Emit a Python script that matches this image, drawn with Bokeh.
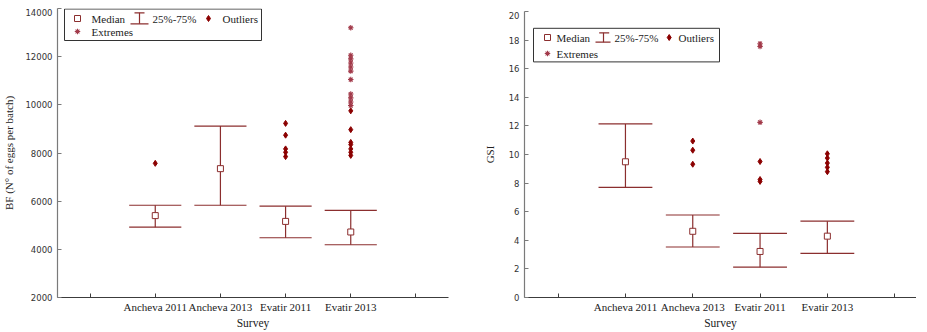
from bokeh.plotting import figure
from bokeh.layouts import row, column
from bokeh.models import Range1d, FixedTicker, SingleIntervalTicker, Spacer
from bokeh.embed import file_html
from bokeh.resources import INLINE
from bokeh.core.properties import value

# ---------------- data ----------------
slot_pos = [1, 2, 3, 4, 5, 6]
slot_labels = ["", "Ancheva 2011", "Ancheva 2013", "Evatir 2011", "Evatir 2013", ""]
surveys = ["Ancheva 2011", "Ancheva 2013", "Evatir 2011", "Evatir 2013"]

# BF (N° of eggs per batch)
bf_median = [5400, 7350, 5160, 4720]
bf_q1 = [4920, 5830, 4480, 4190]
bf_q3 = [5830, 9120, 5790, 5620]
bf_outlier_survey = ["Ancheva 2011",
                     "Evatir 2011", "Evatir 2011", "Evatir 2011", "Evatir 2011", "Evatir 2011",
                     "Evatir 2013", "Evatir 2013", "Evatir 2013", "Evatir 2013", "Evatir 2013",
                     "Evatir 2013", "Evatir 2013"]
bf_outlier_value = [7570,
                    9230, 8740, 8170, 8030, 7850,
                    9750, 8970, 8440, 8350, 8170, 8030, 7900]
bf_extreme_survey = ["Evatir 2013"] * 11
bf_extreme_value = [13200, 12060, 11910, 11740, 11570, 11400, 11050, 10450, 10290, 10120, 9970]

# GSI
gsi_median = [9.49, 4.63, 3.22, 4.29]
gsi_q1 = [7.70, 3.53, 2.12, 3.08]
gsi_q3 = [12.14, 5.77, 4.48, 5.34]
gsi_outlier_survey = ["Ancheva 2013", "Ancheva 2013", "Ancheva 2013",
                      "Evatir 2011", "Evatir 2011", "Evatir 2011",
                      "Evatir 2013", "Evatir 2013", "Evatir 2013", "Evatir 2013", "Evatir 2013"]
gsi_outlier_value = [10.94, 10.30, 9.32,
                     9.51, 8.25, 8.12,
                     10.05, 9.75, 9.40, 9.10, 8.80]
gsi_extreme_survey = ["Evatir 2011", "Evatir 2011", "Evatir 2011"]
gsi_extreme_value = [17.75, 17.55, 12.25]

legend_labels = ["Median", "25%-75%", "Outliers", "Extremes"]

# ---------------- style ----------------
DARK = "#8b0000"
WHISK = "#8b2e2e"
EXT = "#a23a4a"
SERIF = "Liberation Serif"
SANS = "DejaVu Sans"
CAP_HALF = 0.4


def pos_of(names):
    return [slot_pos[slot_labels.index(n)] for n in names]


def make_chart(ylabel, y0, y1, ystep, x_end, fw, fh, bl, br, bb,
               med, q1, q3, o_s, o_v, e_s, e_v, leg):
    p = figure(frame_width=fw, frame_height=fh, min_border_left=bl, min_border_top=0,
               min_border_right=br, min_border_bottom=bb,
               x_range=Range1d(0.5, x_end), y_range=Range1d(y0, y1),
               output_backend="svg", toolbar_location=None, tools="")
    p.extra_x_ranges = {"px": Range1d(0, fw)}
    p.extra_y_ranges = {"py": Range1d(fh, 0)}
    p.background_fill_color = "white"
    p.border_fill_color = "white"
    p.outline_line_color = None
    p.xgrid.visible = False
    p.ygrid.visible = False

    xs = pos_of(surveys)
    p.segment(x0=xs, y0=q1, x1=xs, y1=q3, line_color=WHISK, line_width=1.2)
    p.segment(x0=[x - CAP_HALF for x in xs], y0=q3, x1=[x + CAP_HALF for x in xs], y1=q3,
              line_color=WHISK, line_width=1.2)
    p.segment(x0=[x - CAP_HALF for x in xs], y0=q1, x1=[x + CAP_HALF for x in xs], y1=q1,
              line_color=WHISK, line_width=1.2)
    p.scatter(x=xs, y=med, marker="square", size=6, fill_color="white",
              line_color=WHISK, line_width=1)
    p.scatter(x=pos_of(o_s), y=o_v, marker="diamond", size=6, fill_color=DARK,
              line_color=DARK)
    p.scatter(x=pos_of(e_s), y=e_v, marker="asterisk", size=5.5, line_color=EXT,
              line_width=1.1)

    xa = p.xaxis[0]
    xa.ticker = FixedTicker(ticks=slot_pos)
    xa.major_label_overrides = {k: v for k, v in zip(slot_pos, slot_labels)}
    xa.axis_label = "Survey"
    xa.axis_line_color = "#3c3c3c"
    xa.axis_line_width = 1.2
    xa.major_tick_line_color = "#3c3c3c"
    xa.major_tick_in = 4
    xa.major_tick_out = 0
    xa.minor_tick_line_color = None
    xa.major_label_text_font = SERIF
    xa.major_label_text_font_size = "11px"
    xa.major_label_text_color = "#222222"
    xa.major_label_standoff = 3
    xa.axis_label_text_font = SERIF
    xa.axis_label_text_font_size = "11.5px"
    xa.axis_label_text_font_style = "normal"
    xa.axis_label_text_color = "#222222"
    xa.axis_label_standoff = 1

    ya = p.yaxis[0]
    ya.ticker = SingleIntervalTicker(interval=ystep, num_minor_ticks=0)
    ya.axis_label = ylabel
    ya.axis_line_color = "#7a7a7a"
    ya.axis_line_width = 1.2
    ya.major_tick_line_color = "#7a7a7a"
    ya.major_tick_in = 4
    ya.major_tick_out = 0
    ya.minor_tick_line_color = None
    ya.major_label_text_font = SANS
    ya.major_label_text_font_size = "8.5px"
    ya.major_label_text_color = "#333333"
    ya.major_label_standoff = 5
    ya.axis_label_text_font = SERIF
    ya.axis_label_text_font_size = "11px"
    ya.axis_label_text_font_style = "normal"
    ya.axis_label_text_color = "#222222"
    ya.axis_label_standoff = leg["ylab_standoff"]

    kw = dict(x_range_name="px", y_range_name="py")
    bx0, bx1, by0, by1 = leg["box"]
    p.quad(left=[bx0], right=[bx1], top=[by0], bottom=[by1], fill_color="white",
           line_color="#333333", line_width=1, **kw)
    r1, r2 = leg["rows"]
    mx, mt, bxs, btop, bbot, dx, dt = leg["cols"]
    p.scatter(x=[mx], y=[r1], marker="square", size=6, fill_color="white",
              line_color=WHISK, line_width=1, **kw)
    p.segment(x0=[bxs[1]], y0=[btop[0]], x1=[bxs[1]], y1=[bbot[0]], line_color=WHISK,
              line_width=1.2, **kw)
    p.segment(x0=[btop[1]], y0=[btop[0]], x1=[btop[2]], y1=[btop[0]], line_color=WHISK,
              line_width=1.2, **kw)
    p.segment(x0=[bbot[1]], y0=[bbot[0]], x1=[bbot[2]], y1=[bbot[0]], line_color=WHISK,
              line_width=1.2, **kw)
    p.scatter(x=[dx], y=[r1], marker="diamond", size=6, fill_color=DARK, line_color=DARK, **kw)
    p.scatter(x=[mx], y=[r2], marker="asterisk", size=5.5, line_color=EXT, line_width=1.1, **kw)
    p.text(x=[mt, bxs[0], dt, mt], y=[r1, r1, r1, r2], text=legend_labels,
           text_font=value(SERIF), text_font_size="11px", text_color="#222222",
           text_align="left", text_baseline="middle", **kw)
    return p


left = make_chart("BF (N° of eggs per batch)", 2000, 14000, 2000, 6.5,
                  391, 289, 52, 29, 24,
                  bf_median, bf_q1, bf_q3, bf_outlier_survey, bf_outlier_value,
                  bf_extreme_survey, bf_extreme_value,
                  dict(ylab_standoff=7, box=(7, 204, 0.5, 32), rows=(10, 23),
                       cols=(20, 34, (95, 82), (4.3, 77, 87), (15.3, 73, 91), 151, 165)))

right = make_chart("GSI", 0, 20, 2, 0.5 + 392 / 67.3,
                   392, 286, 47, 0, 24,
                   gsi_median, gsi_q1, gsi_q3, gsi_outlier_survey, gsi_outlier_value,
                   gsi_extreme_survey, gsi_extreme_value,
                   dict(ylab_standoff=10, box=(9, 195, 16.8, 50.4), rows=(26, 42),
                        cols=(23, 32, (90, 79), (21.3, 74.7, 84.7), (30.7, 71, 86), 144.7, 154)))

layout = row(column(Spacer(height=8), left), column(Spacer(height=11), right))
open("out.html", "w").write(file_html(layout, INLINE))
